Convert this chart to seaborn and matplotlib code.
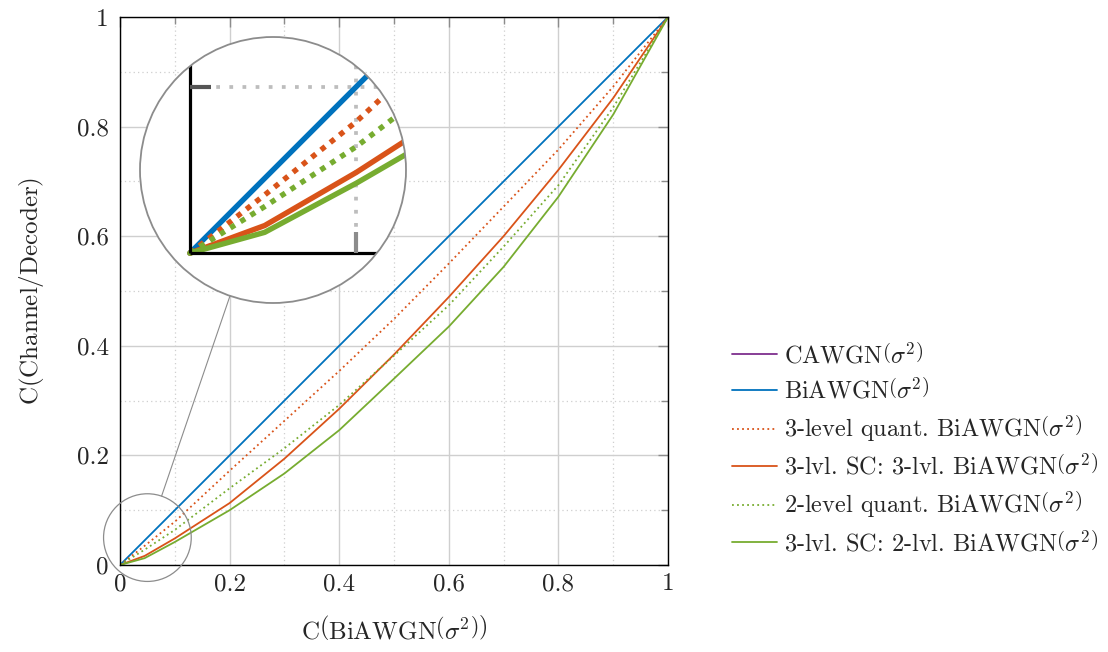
import numpy as np
import matplotlib
matplotlib.use('Agg')
import matplotlib.pyplot as plt
import seaborn as sns
from matplotlib.patches import Circle
from matplotlib.lines import Line2D
from matplotlib.ticker import MultipleLocator, FuncFormatter

# x axis: capacity of the BiAWGN channel
cap_biawgn = [0.0, 0.045, 0.1, 0.2, 0.3, 0.4, 0.5, 0.6, 0.7, 0.8, 0.9, 1.0]

# y values per curve
biawgn = [0.0, 0.045, 0.1, 0.2, 0.3, 0.4, 0.5, 0.6, 0.7, 0.8, 0.9, 1.0]
quant3 = [0.0, 0.035, 0.079, 0.172, 0.263, 0.354, 0.449, 0.550, 0.654, 0.758, 0.873, 1.0]
sc3_quant3 = [0.0, 0.0166, 0.0485, 0.113, 0.194, 0.285, 0.384, 0.489, 0.600, 0.721, 0.852, 1.0]
quant2 = [0.0, 0.028, 0.064, 0.140, 0.213, 0.292, 0.382, 0.474, 0.581, 0.693, 0.835, 1.0]
sc3_quant2 = [0.0, 0.0125, 0.042, 0.100, 0.167, 0.246, 0.340, 0.435, 0.544, 0.672, 0.822, 1.0]

SIG = r'$\left(\sigma^2\right)$'
labels = [
    'CAWGN' + SIG,
    'BiAWGN' + SIG,
    '3-level quant. BiAWGN' + SIG,
    '3-lvl. SC: 3-lvl. BiAWGN' + SIG,
    '2-level quant. BiAWGN' + SIG,
    '3-lvl. SC: 2-lvl. BiAWGN' + SIG,
]
xlabel = r'C$\left(\mathrm{BiAWGN}\left(\sigma^2\right)\right)$'
ylabel = r'C$\left(\mathrm{Channel/Decoder}\right)$'

# spy / zoom region (data coords)
zoom_center = (0.05, 0.05)
zoom_radius = 0.08

PURPLE = '#7E2F8E'
BLUE = '#0072BD'
ORANGE = '#D95319'
GREEN = '#77AC30'
DOTTED = (0, (1, 1.8))

sns.set_style('white')
plt.rcParams['font.family'] = ['cmr10']
plt.rcParams['mathtext.fontset'] = 'cm'
plt.rcParams['axes.formatter.use_mathtext'] = True

fig = plt.figure(figsize=(11.08, 6.52), dpi=100)
ax = fig.add_axes([120 / 1108, 87 / 652, 548 / 1108, 548 / 652])

series = [
    (biawgn, BLUE, '-', labels[1]),
    (quant3, ORANGE, DOTTED, labels[2]),
    (sc3_quant3, ORANGE, '-', labels[3]),
    (quant2, GREEN, DOTTED, labels[4]),
    (sc3_quant2, GREEN, '-', labels[5]),
]

lw_main = 1.3
# CAWGN is only listed in the legend (no visible curve)
ax.plot([], [], color=PURPLE, lw=lw_main, label=labels[0])
for vals, col, ls, lab in series:
    sns.lineplot(x=cap_biawgn, y=vals, ax=ax, color=col, linestyle=ls,
                 lw=lw_main, label=lab, zorder=3)

ax.set_xlim(0, 1)
ax.set_ylim(0, 1)
for axis in (ax.xaxis, ax.yaxis):
    axis.set_major_locator(MultipleLocator(0.2))
    axis.set_minor_locator(MultipleLocator(0.1))
    axis.set_major_formatter(FuncFormatter(lambda v, p: f'{v:g}'))
ax.grid(which='major', color='#cfcfcf', lw=1.0, ls='-')
ax.grid(which='minor', color='#cfcfcf', lw=0.9, ls=(0, (1, 2.5)))
ax.tick_params(which='both', direction='in', top=True, right=True,
               color='#8c8c8c', width=1.0, labelsize=18)
ax.tick_params(which='major', length=7)
ax.tick_params(which='minor', length=5)
ax.tick_params(axis='x', pad=6)
ax.tick_params(axis='y', pad=8)
for sp in ax.spines.values():
    sp.set_color('black')
    sp.set_linewidth(1.0)
    sp.set_zorder(4)

ax.set_xlabel(xlabel, fontsize=18, labelpad=14)
ax.set_ylabel(ylabel, fontsize=18, labelpad=22)

# small circle marking the zoomed region
ax.add_patch(Circle(zoom_center, zoom_radius, transform=ax.transData,
                    fill=False, ec='#8c8c8c', lw=0.9, clip_on=False, zorder=6))

# magnified circular inset
cx, cy = 273 / 1108, 1 - 170 / 652
rw, rh = 133 / 1108, 133 / 652
ins = fig.add_axes([cx - rw, cy - rh, 2 * rw, 2 * rh])
ins.set_xlim(zoom_center[0] - zoom_radius, zoom_center[0] + zoom_radius)
ins.set_ylim(zoom_center[1] - zoom_radius, zoom_center[1] + zoom_radius)
ins.axis('off')
ins.add_patch(Circle((0.5, 0.5), 0.5, transform=ins.transAxes,
                     fc='white', ec='none', zorder=0))

mag = 3.0
top = zoom_center[1] + zoom_radius
ins.vlines([0.1], 0, top, color='#bdbdbd', lw=0.9 * mag, linestyles=[(0, (1, 2.5))], zorder=1)
ins.hlines([0.1], 0, top, color='#bdbdbd', lw=0.9 * mag, linestyles=[(0, (1, 2.5))], zorder=1)
for vals, col, ls, lab in series:
    dash = (0, (1, 1.2)) if ls != '-' else '-'
    sns.lineplot(x=cap_biawgn, y=vals, ax=ins, color=col, linestyle=dash,
                 lw=lw_main * mag, zorder=3)
ins.vlines([0], 0, top, color='black', lw=2.3, zorder=4)
ins.hlines([0], 0, top, color='black', lw=2.3, zorder=4)
tick_len = 7 / 548
ins.vlines([0.1], 0, tick_len, color='#8c8c8c', lw=1.0 * mag, zorder=4)
ins.hlines([0.1], 0, tick_len, color='#555555', lw=1.0 * mag, zorder=4)

clip = Circle((0.5, 0.5), 0.5, transform=ins.transAxes)
for art in ins.lines + ins.collections:
    art.set_clip_path(clip)
ins.add_patch(Circle((0.5, 0.5), 0.5, transform=ins.transAxes,
                     fill=False, ec='#8c8c8c', lw=1.3, zorder=10, clip_on=False))

# connector between the two circles
p_small = ax.transData.transform(zoom_center)
r_small = ax.transData.transform((zoom_center[0] + zoom_radius, zoom_center[1]))[0] - p_small[0]
p_big = ins.transAxes.transform((0.5, 0.5))
r_big = ins.transAxes.transform((1.0, 0.5))[0] - p_big[0]
u = (p_big - p_small) / np.hypot(*(p_big - p_small))
a = fig.transFigure.inverted().transform(p_small + r_small * u)
b = fig.transFigure.inverted().transform(p_big - r_big * u)
fig.add_artist(Line2D([a[0], b[0]], [a[1], b[1]], transform=fig.transFigure,
                      color='#8c8c8c', lw=0.8))

handles, labs = ax.get_legend_handles_labels()
leg = ax.legend(handles, labs, loc='center left', bbox_to_anchor=(0.641, 0.311),
                bbox_transform=fig.transFigure, frameon=False, fontsize=17.5,
                handlelength=1.85, handletextpad=0.3, labelspacing=0.42)

fig.savefig('out.png', dpi=100)
